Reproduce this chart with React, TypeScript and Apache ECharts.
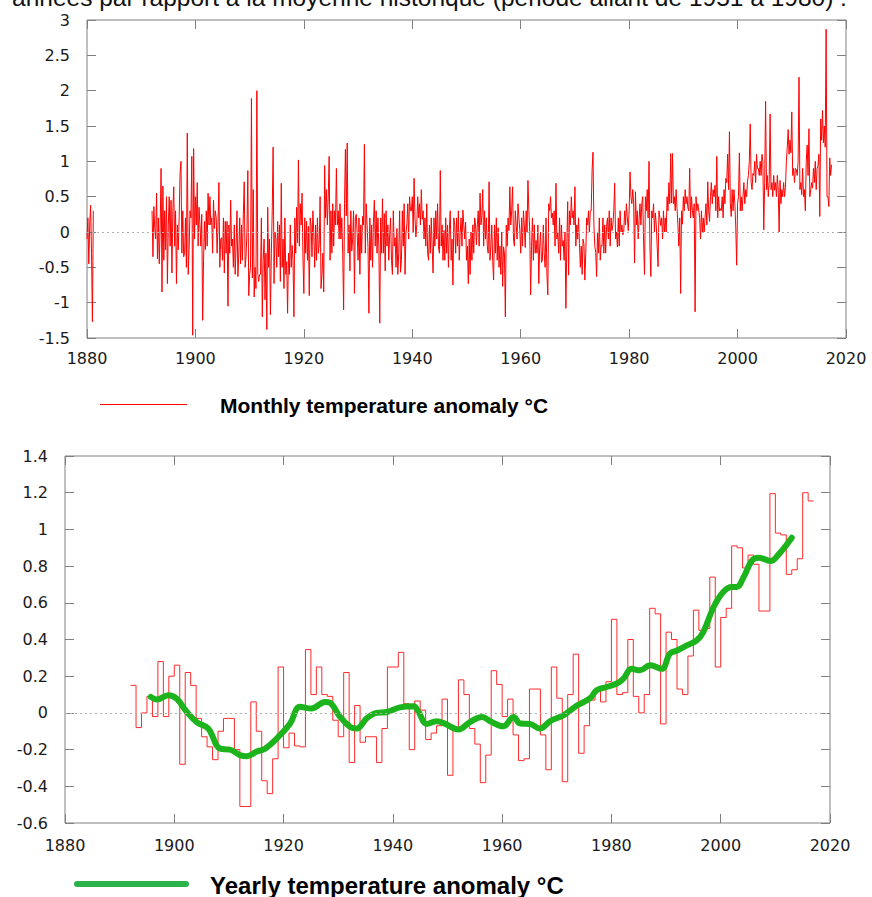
import { useEffect, useRef } from "react";
import * as echarts from "echarts";

// ---------- DATA ----------
const X_MIN = 1880;
const X_MAX = 2020;
const X_INTERVAL = 20;

const MONTHLY_Y_MIN = -1.5;
const MONTHLY_Y_MAX = 3;
const MONTHLY_Y_INTERVAL = 0.5;

const YEARLY_Y_MIN = -0.6;
const YEARLY_Y_MAX = 1.4;
const YEARLY_Y_INTERVAL = 0.2;

const STEPS_PER_YEAR = 6;

// short early record (1880 - 1881)
const early1880s: number[] = [-0.1, 0.2, -0.45, 0.1, 0.38, -0.3, -1.27, 0.3];

const monthly1890s: number[][] = [
  [0.3, -0.35, 0.36, 0.05, -0.1, 0.55],
  [-0.38, 0.2, -0.45, 0.1, 0.9, -0.85],
  [0.65, -0.4, 0.3, -0.25, 0.5, -0.73],
  [0.1, 0.5, -0.2, 0.45, -0.58, 0.3],
  [0.64, -0.2, 0.3, -0.73, 0.1, -0.25],
  [0.2, 0.83, 1.0, -0.3, 0.3, -0.35],
  [-0.3, 0.2, -0.5, 1.4, -0.6, -0.25],
  [0.3, 0.2, 1.07, -1.46, 1.18, -0.1],
];
const monthly1900s: number[][] = [
  [0.5, 0.1, 0.7, -0.2, 0.35, 0.1],
  [-0.2, 0.25, -1.25, -0.4, 0.15, -0.25],
  [0.3, -0.2, 0.55, 0.1, 0.5, 0.1],
  [0.2, -0.3, 0.45, 0.05, 0.3, 0.2],
  [-0.3, 0.1, 0.7, -0.5, -0.1, -0.08],
  [-0.4, 0.2, -0.58, 0.15, -0.3, 0.15],
  [-1.05, 0.1, -0.3, 0.45, -0.2, -0.1],
  [-0.5, 0.1, -0.6, -0.2, 0.3, -0.63],
  [-0.3, 0.2, -0.45, 0.1, -0.4, 0.25],
  [0.71, -0.5, -0.35, 0.0, 0.87, -0.9],
];
const monthly1910s: number[][] = [
  [-0.6, -0.5, 1.89, -0.65, 0.6, -0.92],
  [-0.5, -0.8, 2.0, -0.6, -0.7, -0.6],
  [-0.6, 0.2, -1.2, -0.4, -0.1, -0.96],
  [-0.3, -1.38, 0.35, -0.5, -0.1, -1.17],
  [-0.3, 0.3, 1.2, -0.73, 0.0, -0.1],
  [-0.5, 0.15, -0.35, 0.1, -0.7, 0.69],
  [-0.5, -0.1, -0.8, 0.2, -0.6, -0.42],
  [-1.15, -0.3, -0.6, 0.1, -0.5, -0.19],
  [-0.4, -1.2, 0.2, -0.3, 0.35, -0.15],
  [1.02, -0.2, 0.4, 0.1, 0.55, -0.37],
];
const monthly1920s: number[][] = [
  [-0.87, 0.2, -0.3, 0.15, -0.4, 0.08],
  [-0.9, 0.2, 0.1, -0.35, 0.3, -0.01],
  [-0.5, 0.1, -0.4, 0.2, -0.3, -0.18],
  [0.5, -0.8, -0.6, -0.3, -0.85, 0.94],
  [0.2, 0.6, 0.1, 0.5, 1.07, -0.4],
  [0.3, -0.3, 0.4, -0.2, 0.3, 0.1],
  [0.9, 0.1, 0.3, -0.1, 0.4, -0.1],
  [0.2, -0.3, -1.1, 0.4, 1.17, 0.23],
  [1.26, -0.3, 0.1, -0.55, 0.3, -0.27],
  [-0.1, 0.3, -0.87, 0.2, 0.25, -0.02],
];
const monthly1930s: number[][] = [
  [-0.4, 0.2, -0.6, 0.1, -0.3, 0.22],
  [0.1, 1.24, -0.3, 0.4, 0.1, -0.22],
  [-1.15, 0.2, -0.4, 0.1, -0.5, 0.13],
  [0.45, -0.2, 0.3, -0.3, 0.2, -0.21],
  [-1.29, 0.2, -0.3, 0.47, -0.3, 0.26],
  [-0.55, 0.3, -0.2, 0.1, -0.4, -0.03],
  [0.2, -0.4, -0.6, 0.3, -0.2, -0.08],
  [-0.5, 0.05, -0.6, -0.3, 0.3, -0.57],
  [-0.4, 0.3, -0.2, 0.4, -0.6, -0.01],
  [0.1, 0.4, -0.1, 0.5, 0.3, 0.3],
];
const monthly1940s: number[][] = [
  [0.5, 0.0, 0.76, 0.2, -0.07, 0.11],
  [0.5, 0.2, 0.4, 0.1, 0.6, 0.18],
  [0.3, -0.1, 0.2, -0.2, 0.4, -0.3],
  [-0.4, 0.1, -0.3, 0.2, -0.22, -0.58],
  [0.2, -0.2, 0.3, -0.1, 0.4, -0.21],
  [-0.3, 0.87, -0.2, 0.1, -0.4, 0.02],
  [-0.4, 0.2, -0.3, 0.1, -0.5, 0.03],
  [0.3, -0.4, -0.1, -0.75, 0.2, 0.09],
  [-0.3, 0.2, -0.2, 0.3, -0.4, -0.02],
  [0.2, -0.2, 0.31, 0.1, -0.1, 0.14],
];
const monthly1950s: number[][] = [
  [-0.4, -0.2, -0.73, -0.1, -0.6, 0.0],
  [-0.4, 0.1, -0.3, 0.2, 0.1, -0.18],
  [0.1, 0.3, -0.2, 0.55, 0.1, 0.23],
  [0.6, -0.2, 0.3, -0.1, 0.2, -0.2],
  [-0.3, 0.71, -0.4, -0.2, 0.1, -0.42],
  [-0.68, 0.1, -0.3, 0.2, -0.4, 0.06],
  [-0.5, -0.2, -0.6, 0.0, -0.77, -0.21],
  [-0.3, -1.2, 0.1, -0.2, 0.2, 0.02],
  [0.64, 0.1, 0.3, 0.64, -0.1, -0.2],
  [0.3, 0.1, -0.1, 0.4, 0.2, 0.03],
];
const monthly1960s: number[][] = [
  [-0.3, 0.2, -0.2, 0.3, 0.1, -0.22],
  [0.3, 0.0, 0.73, 0.3, 0.01, -0.89],
  [-0.2, 0.2, -0.4, 0.1, -0.3, -0.12],
  [-0.3, 0.1, -0.73, -0.2, 0.0, -0.43],
  [-0.4, 0.1, -0.3, -0.5, 0.2, -0.6],
  [-0.89, 0.4, 0.3, 0.5, 0.2, 0.27],
  [0.1, 0.3, -0.2, 0.69, -0.1, -0.01],
  [-0.3, 0.2, -0.4, 0.1, -0.2, -0.12],
  [-0.4, 0.0, -1.08, -0.2, 0.43, -0.61],
  [0.3, 0.1, 0.5, 0.2, 0.3, 0.1],
];
const monthly1970s: number[][] = [
  [0.64, -0.2, 0.1, -0.1, 0.2, -0.16],
  [-0.5, -0.2, -0.6, -0.1, -0.17, -0.68],
  [-0.3, 0.2, 0.1, 0.3, 0.0, 0.3],
  [0.3, 0.88, 1.13, 0.1, -0.2, -0.29],
  [-0.63, 0.0, -0.3, 0.2, -0.4, -0.19],
  [-0.2, 0.2, -0.3, 0.1, -0.3, 0.08],
  [0.2, -0.1, 0.3, -0.2, 0.2, 0.02],
  [0.1, 0.3, 0.69, -0.1, 0.0, -0.21],
  [0.2, -0.2, 0.3, 0.0, 0.1, -0.04],
  [0.0, 0.3, 0.1, 0.4, 0.2, 0.02],
];
const monthly1980s: number[][] = [
  [0.3, 0.85, 0.5, 0.4, 0.6, 0.41],
  [-0.44, 0.57, 0.1, 0.3, -0.1, 0.17],
  [0.4, 0.1, 0.4, 0.5, -0.14, -0.6],
  [0.5, 0.3, 0.6, 0.2, 1.0, -0.2],
  [-0.63, 0.3, 0.2, 0.4, 0.0, 0.27],
  [0.1, -0.2, -0.49, 0.3, 0.2, 0.09],
  [0.2, -0.1, 0.3, 0.0, 0.2, 0.0],
  [0.5, 0.3, 0.7, 0.4, 1.11, 0.41],
  [1.11, 0.4, 0.5, 0.3, 0.6, 0.33],
  [0.1, -0.2, 0.2, -0.87, 0.3, 0.11],
];
const monthly1990s: number[][] = [
  [0.5, 0.3, 0.6, 0.4, 0.5, 0.34],
  [0.3, 0.9, 0.2, 0.5, 0.3, 0.2],
  [0.4, -1.13, 0.5, 0.3, 0.4, 0.31],
  [0.2, -0.1, 0.3, 0.0, 0.2, 0.0],
  [0.2, 0.4, 0.1, 0.71, 0.3, 0.15],
  [0.5, 0.7, 0.4, 0.6, 0.5, 0.66],
  [0.3, 1.07, 0.2, 0.5, 0.3, 0.33],
  [0.3, 0.5, 0.2, 0.6, 0.4, 0.76],
  [0.7, 1.1, 0.6, 1.42, 0.4, 0.22],
  [0.6, 0.3, 0.6, 0.4, 0.07, -0.47],
];
const monthly2000s: number[][] = [
  [0.4, 0.5, 1.12, 0.3, 0.5, 0.3],
  [0.5, 0.7, 0.4, 0.6, 0.5, 0.72],
  [0.8, 1.0, 1.53, 0.7, 0.6, 0.83],
  [0.8, 1.0, 0.7, 1.1, 0.9, 0.9],
  [0.8, 1.0, 0.8, 1.1, 1.0, 0.03],
  [0.7, 1.85, 0.6, 0.8, 0.5, 0.71],
  [1.67, 0.6, 0.7, 0.5, 0.8, 0.59],
  [0.7, 0.5, 0.8, 0.6, 0.0, 0.73],
  [0.4, 0.6, 0.5, 0.7, 0.5, 0.63],
  [1.0, 1.2, 1.45, 1.1, 1.3, 1.12],
];
const monthly2010s: number[][] = [
  [1.7, 0.8, 0.9, 0.7, 0.9, 0.88],
  [0.8, 1.0, 2.19, 0.6, 0.7, 0.53],
  [0.9, 0.5, 0.6, 0.3, 1.0, 1.23],
  [0.8, 1.46, 0.5, 0.6, 0.7, 0.62],
  [0.9, 0.7, 1.0, 0.6, 0.9, 0.94],
  [1.1, 0.22, 1.6, 1.3, 1.72, 1.26],
  [1.5, 1.2, 2.87, 0.5, 0.5, 0.36],
  [1.05, 0.8, 0.95],
];

const yearlyStart = 1892;
const yearlyValues: number[] = [
  0.15, -0.08, 0.0, 0.09, -0.02, 0.28, -0.02, 0.2,
  0.26, -0.28, 0.22, 0.15, -0.03, -0.13, -0.185, -0.255, -0.1, -0.03,
  -0.03, -0.2, -0.51, -0.51, 0.06, -0.1, -0.37, -0.44, -0.25, 0.25,
  -0.19, -0.11, -0.18, -0.185, 0.345, 0.1, 0.25, 0.1, 0.09, -0.04,
  -0.13, 0.22, -0.27, 0.04, -0.16, -0.13, -0.13, -0.27, -0.085, 0.25,
  0.25, 0.33, 0.05, -0.2, 0.065, 0.015, -0.145, -0.11, -0.07, 0.075,
  -0.34, -0.08, 0.18, 0.1, -0.085, -0.17, -0.38, -0.23, 0.23, 0.155,
  -0.02, 0.075, -0.12, -0.26, -0.25, 0.13, 0.13, -0.12, -0.31, 0.25,
  0.08, -0.375, 0.1, 0.32, -0.22, -0.07, 0.07, 0.13, 0.06, 0.17,
  0.51, 0.1, 0.11, 0.4, 0.09, 0.0, 0.1, 0.57, 0.54, -0.06,
  0.44, 0.4, 0.13, 0.1, 0.31, 0.56, 0.45, 0.46, 0.74, 0.25,
  0.52, 0.57, 0.91, 0.9, 0.79, 0.86, 0.81, 0.555, 0.555, 1.195,
  0.98, 0.97, 0.755, 0.78, 0.84, 1.2, 1.155,
];

const smoothYears: number[] = [
  1895.7, 1896.8, 1898.9, 1900.4, 1902.3, 1904.1, 1906.2, 1908.4, 1910.2, 1912.0,
  1913.3, 1915.1, 1916.6, 1919.4, 1921.2, 1923.0, 1925.1, 1927.6, 1928.5, 1930.3,
  1932.2, 1933.4, 1935.2, 1937.0, 1938.9, 1941.3, 1943.8, 1944.7, 1946.2, 1948.0,
  1949.6, 1952.0, 1954.1, 1956.3, 1958.1, 1960.2, 1962.1, 1963.3, 1965.1, 1966.9,
  1968.8, 1971.2, 1973.7, 1976.1, 1977.3, 1979.1, 1981.0, 1982.2, 1983.7, 1985.2,
  1987.1, 1989.2, 1990.7, 1992.0, 1993.8, 1995.6, 1996.8, 1998.7, 2000.5, 2002.0,
  2002.9, 2004.2, 2005.7, 2006.9, 2009.1, 2010.6, 2013.0,
];
const smoothValues: number[] = [
  0.087, 0.073, 0.096, 0.078, 0.005, -0.05, -0.085, -0.195, -0.2, -0.23,
  -0.236, -0.21, -0.195, -0.12, -0.058, 0.033, 0.024, 0.06, 0.055, -0.02,
  -0.077, -0.085, -0.03, 0.0, 0.005, 0.03, 0.036, 0.005, -0.06, -0.045,
  -0.06, -0.09, -0.05, -0.022, -0.05, -0.073, -0.022, -0.058, -0.06, -0.085,
  -0.045, -0.013, 0.04, 0.08, 0.123, 0.141, 0.16, 0.187, 0.24, 0.232,
  0.26, 0.24, 0.323, 0.34, 0.368, 0.395, 0.44, 0.577, 0.66, 0.686,
  0.686, 0.74, 0.83, 0.846, 0.828, 0.864, 0.955,
];

const TITLE_TEXT =
  "années par rapport à la moyenne historique (période allant de 1951 à 1980) :";
const MONTHLY_LEGEND = "Monthly temperature anomaly °C";
const YEARLY_LEGEND = "Yearly temperature anomaly °C";

// ---------- helpers ----------
function toPoints(startYear: number, rows: number[][]): [number, number][] {
  const pts: [number, number][] = [];
  rows.forEach((row, r) =>
    row.forEach((v, i) => pts.push([startYear + r + i / STEPS_PER_YEAR, v]))
  );
  return pts;
}

const RED = "#ff0000";
const GREEN = "#1db31d";
const FRAME = "#808080";
const LABEL = "#1a1a1a";
const FONT = "DejaVu Sans";

function xAxisDef(gridIndex: number, position: "top" | "bottom", margin: number) {
  return {
    type: "value",
    gridIndex,
    position,
    min: X_MIN,
    max: X_MAX,
    interval: X_INTERVAL,
    axisLine: { show: false, onZero: false },
    axisTick: { show: true, inside: true, length: 9, lineStyle: { color: FRAME, width: 1 } },
    axisLabel: {
      show: position === "bottom",
      margin,
      color: LABEL,
      fontFamily: FONT,
      fontSize: 16,
      formatter: (v: number) => String(v),
    },
    splitLine: { show: false },
  };
}
function yAxisDef(
  gridIndex: number,
  position: "left" | "right",
  min: number,
  max: number,
  interval: number
) {
  return {
    type: "value",
    gridIndex,
    position,
    min,
    max,
    interval,
    axisLine: { show: false, onZero: false },
    axisTick: { show: true, inside: true, length: 9, lineStyle: { color: FRAME, width: 1 } },
    axisLabel: {
      show: position === "left",
      margin: 17,
      color: LABEL,
      fontFamily: FONT,
      fontSize: 16,
      formatter: (v: number) => String(Math.round(v * 10) / 10),
    },
    splitLine: { show: false },
  };
}

const zeroLine = {
  silent: true,
  symbol: ["none", "none"],
  label: { show: false },
  lineStyle: { type: [2, 3], color: "#b0b0b0", width: 1 },
  data: [{ yAxis: 0 }],
};

export default function App() {
  const ref = useRef<HTMLDivElement>(null);
  useEffect(() => {
    if (!ref.current) return;
    const chart = echarts.init(ref.current, undefined, { renderer: "svg" });

    const monthlyMain = [
      ...toPoints(1892, monthly1890s),
      ...toPoints(1900, monthly1900s),
      ...toPoints(1910, monthly1910s),
      ...toPoints(1920, monthly1920s),
      ...toPoints(1930, monthly1930s),
      ...toPoints(1940, monthly1940s),
      ...toPoints(1950, monthly1950s),
      ...toPoints(1960, monthly1960s),
      ...toPoints(1970, monthly1970s),
      ...toPoints(1980, monthly1980s),
      ...toPoints(1990, monthly1990s),
      ...toPoints(2000, monthly2000s),
      ...toPoints(2010, monthly2010s),
    ];
    const monthlyEarly = early1880s.map((v, i) => [1880 + i / STEPS_PER_YEAR, v]);
    const yearlyPts = yearlyValues.map((v, i) => [yearlyStart + i, v]);
    yearlyPts.push([yearlyStart + yearlyValues.length, yearlyValues[yearlyValues.length - 1]]);
    const smoothPts = smoothYears.map((y, i) => [y, smoothValues[i]]);

    const option = {
      animation: false,
      backgroundColor: "#ffffff",
      grid: [
        { left: 87, top: 20, width: 759, height: 318, show: true, borderColor: FRAME, borderWidth: 1, backgroundColor: "transparent" },
        { left: 65, top: 456, width: 765, height: 367, show: true, borderColor: FRAME, borderWidth: 1, backgroundColor: "transparent" },
      ],
      xAxis: [
        xAxisDef(0, "bottom", 12),
        xAxisDef(0, "top", 12),
        xAxisDef(1, "bottom", 14),
        xAxisDef(1, "top", 14),
      ],
      yAxis: [
        yAxisDef(0, "left", MONTHLY_Y_MIN, MONTHLY_Y_MAX, MONTHLY_Y_INTERVAL),
        yAxisDef(0, "right", MONTHLY_Y_MIN, MONTHLY_Y_MAX, MONTHLY_Y_INTERVAL),
        yAxisDef(1, "left", YEARLY_Y_MIN, YEARLY_Y_MAX, YEARLY_Y_INTERVAL),
        yAxisDef(1, "right", YEARLY_Y_MIN, YEARLY_Y_MAX, YEARLY_Y_INTERVAL),
      ],
      series: [
        {
          type: "line",
          xAxisIndex: 0,
          yAxisIndex: 0,
          data: monthlyEarly,
          showSymbol: false,
          lineStyle: { color: RED, width: 1 },
          markLine: zeroLine,
          z: 2,
        },
        {
          type: "line",
          xAxisIndex: 0,
          yAxisIndex: 0,
          data: monthlyMain,
          showSymbol: false,
          lineStyle: { color: RED, width: 1 },
          z: 3,
        },
        {
          type: "line",
          xAxisIndex: 2,
          yAxisIndex: 2,
          data: yearlyPts,
          step: "end",
          showSymbol: false,
          lineStyle: { color: "#ff2a2a", width: 1 },
          markLine: zeroLine,
          z: 2,
        },
        {
          type: "line",
          xAxisIndex: 2,
          yAxisIndex: 2,
          data: smoothPts,
          smooth: 0.4,
          showSymbol: false,
          lineStyle: { color: GREEN, width: 6, cap: "round", join: "round" },
          z: 3,
        },
      ],
      graphic: [
        {
          type: "text",
          x: 12,
          y: -2.5,
          style: {
            text: TITLE_TEXT,
            fontFamily: "Liberation Sans",
            fontSize: 24.5,
            fill: "#111",
            verticalAlign: "middle",
          },
        },
        {
          type: "line",
          shape: { x1: 100, y1: 404.5, x2: 187, y2: 404.5 },
          style: { stroke: RED, lineWidth: 1 },
        },
        {
          type: "text",
          x: 220,
          y: 405,
          style: {
            text: MONTHLY_LEGEND,
            fontFamily: "Liberation Sans",
            fontWeight: "bold",
            fontSize: 21,
            fill: "#000",
            verticalAlign: "middle",
          },
        },
        {
          type: "line",
          shape: { x1: 77, y1: 884, x2: 186, y2: 884 },
          style: { stroke: "#2ab34a", lineWidth: 6, lineCap: "round" },
        },
        {
          type: "text",
          x: 210,
          y: 885,
          style: {
            text: YEARLY_LEGEND,
            fontFamily: "Liberation Sans",
            fontWeight: "bold",
            fontSize: 24,
            fill: "#000",
            verticalAlign: "middle",
          },
        },
      ],
    };
    chart.setOption(option as any);
    return () => chart.dispose();
  }, []);
  return (
    <div
      ref={ref}
      style={{ position: "absolute", left: 0, top: 0, width: 872, height: 897, background: "#fff" }}
    />
  );
}
